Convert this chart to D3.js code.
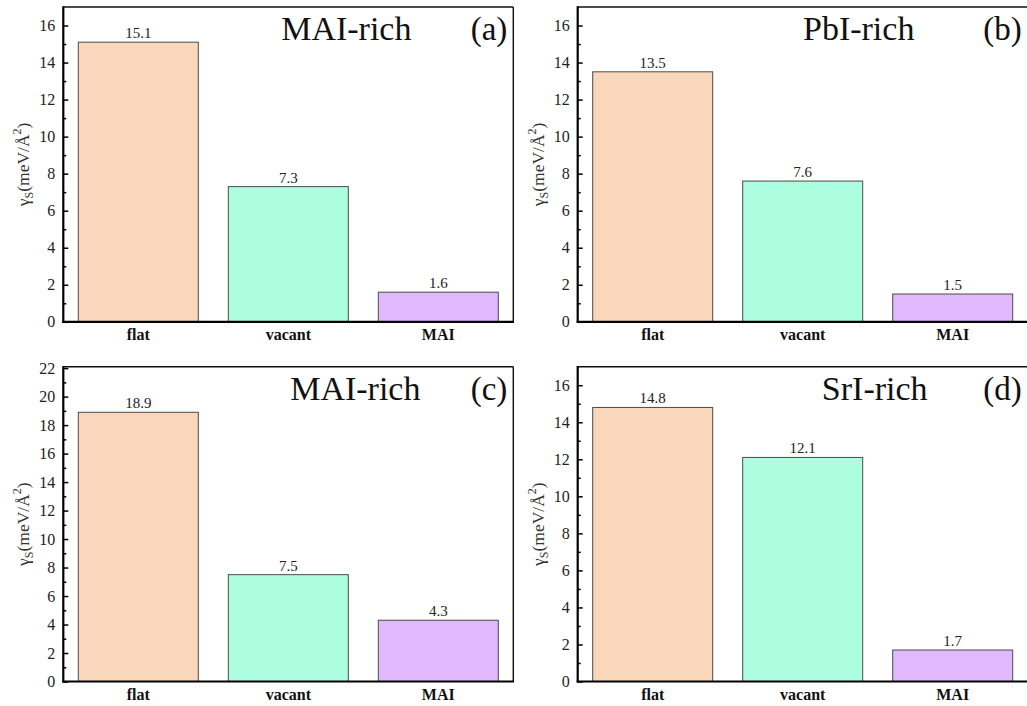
<!DOCTYPE html>
<html>
<head>
<meta charset="utf-8">
<script src="https://cdn.jsdelivr.net/npm/d3@7"></script>
<style>
  html, body { margin: 0; padding: 0; background: #fff; }
  svg, svg text { font-family: "Liberation Serif", "Times New Roman", serif !important; }
</style>
</head>
<body>
<svg id="chart" width="1027" height="706"></svg>
<script>
// Surface energy of the three terminations under different growth conditions
const categories = ["flat", "vacant", "MAI"];
const panelTags = ["(a)", "(b)", "(c)", "(d)"];
const conditions = ["MAI-rich", "PbI-rich", "MAI-rich", "SrI-rich"];
const valuesA = [15.1, 7.3, 1.6];
const valuesB = [13.5, 7.6, 1.5];
const valuesC = [18.9, 7.5, 4.3];
const valuesD = [14.8, 12.1, 1.7];
const yMaxima = [17, 17, 22.1, 17];
const barColors = ["#F9D7BA", "#ADFEE0", "#E0B8FC"];

const seriesValues = [valuesA, valuesB, valuesC, valuesD];

// panel placement (left, top) and the x centre of each condition caption
const panelBoxes = [
  { left: 63.3, top: 7, titleX: 283 },
  { left: 577.7, top: 7, titleX: 281 },
  { left: 63.3, top: 366.7, titleX: 292 },
  { left: 577.7, top: 366.7, titleX: 297 }
];
const W = 450, H = 314.8;
const serif = "'Liberation Serif', 'Times New Roman', serif";

const svg = d3.select("#chart");

seriesValues.forEach((vals, i) => {
  const box = panelBoxes[i];
  const g = svg.append("g").attr("transform", `translate(${box.left},${box.top})`);

  const x = d3.scaleBand().domain(categories).range([0, W])
    .paddingInner(0.2).paddingOuter(0.1);
  const y = d3.scaleLinear().domain([0, yMaxima[i]]).range([H, 0]);

  const majorTicks = d3.range(0, Math.floor(yMaxima[i]) + 0.001, 2);
  const minorTicks = d3.range(1, yMaxima[i], 2);

  // bars
  g.selectAll("rect.bar").data(vals).join("rect")
    .attr("class", "bar")
    .attr("x", (d, j) => x(categories[j]))
    .attr("y", d => y(d))
    .attr("width", x.bandwidth())
    .attr("height", d => y(0) - y(d))
    .attr("fill", (d, j) => barColors[j])
    .attr("stroke", "#4a4a4a")
    .attr("stroke-width", 1);

  // value labels
  g.selectAll("text.val").data(vals).join("text")
    .attr("class", "val")
    .attr("x", (d, j) => x(categories[j]) + x.bandwidth() / 2)
    .attr("y", d => y(d) - 4)
    .attr("text-anchor", "middle")
    .style("font-size", "15px")
    .attr("fill", "#222")
    .text(d => d.toFixed(1));

  // left axis, inward ticks
  const yAxis = g.append("g")
    .call(d3.axisLeft(y).tickValues(majorTicks).tickFormat(d3.format("d"))
      .tickSizeInner(-5).tickSizeOuter(0).tickPadding(8));
  yAxis.attr("font-family", null).attr("font-size", null);
  yAxis.select(".domain").remove();
  yAxis.selectAll(".tick line").attr("stroke", "#000").attr("stroke-width", 1.5);
  yAxis.selectAll(".tick text").style("font-size", "16px").attr("fill", "#222")
    .style("font-family", serif);

  const yMinor = g.append("g")
    .call(d3.axisLeft(y).tickValues(minorTicks).tickFormat("")
      .tickSizeInner(-3).tickSizeOuter(0));
  yMinor.select(".domain").remove();
  yMinor.selectAll(".tick line").attr("stroke", "#000").attr("stroke-width", 1.5);

  // bottom category axis
  const xAxis = g.append("g").attr("transform", `translate(0,${H})`)
    .call(d3.axisBottom(x).tickSize(0).tickPadding(7));
  xAxis.attr("font-family", null).attr("font-size", null);
  xAxis.select(".domain").remove();
  xAxis.selectAll(".tick text").style("font-size", "16px").style("font-weight", "bold")
    .attr("fill", "#111").style("font-family", serif);

  // frame: heavy left/bottom axes, lighter top/right
  g.append("line").attr("x1", 0).attr("x2", W).attr("y1", 0).attr("y2", 0)
    .attr("stroke", "#111").attr("stroke-width", 1.6);
  g.append("line").attr("x1", W).attr("x2", W).attr("y1", 0).attr("y2", H)
    .attr("stroke", "#111").attr("stroke-width", 1.4);
  g.append("line").attr("x1", 0).attr("x2", 0).attr("y1", -0.8).attr("y2", H + 1)
    .attr("stroke", "#000").attr("stroke-width", 2.2);
  g.append("line").attr("x1", -1).attr("x2", W + 0.7).attr("y1", H).attr("y2", H)
    .attr("stroke", "#000").attr("stroke-width", 2.2);

  // condition caption and panel tag
  g.append("text").attr("x", box.titleX).attr("y", 33)
    .attr("text-anchor", "middle").style("font-size", "34px").attr("fill", "#111")
    .text(conditions[i]);
  g.append("text").attr("x", 444).attr("y", 33)
    .attr("text-anchor", "end").style("font-size", "33px").attr("fill", "#111")
    .text(panelTags[i]);

  // y-axis title: γS(meV/Å²)
  const t = g.append("text")
    .attr("transform", `translate(${-34},${H / 2}) rotate(-90)`)
    .attr("text-anchor", "middle")
    .style("font-size", "17.5px").attr("fill", "#333");
  t.append("tspan").text("γ");
  t.append("tspan").style("font-size", "12px").attr("dy", 4).text("S");
  t.append("tspan").attr("dy", -4).text("(meV/Å");
  t.append("tspan").style("font-size", "12px").attr("dy", -8).text("2");
  t.append("tspan").attr("dy", 8).text(")");
});
</script>
</body>
</html>
